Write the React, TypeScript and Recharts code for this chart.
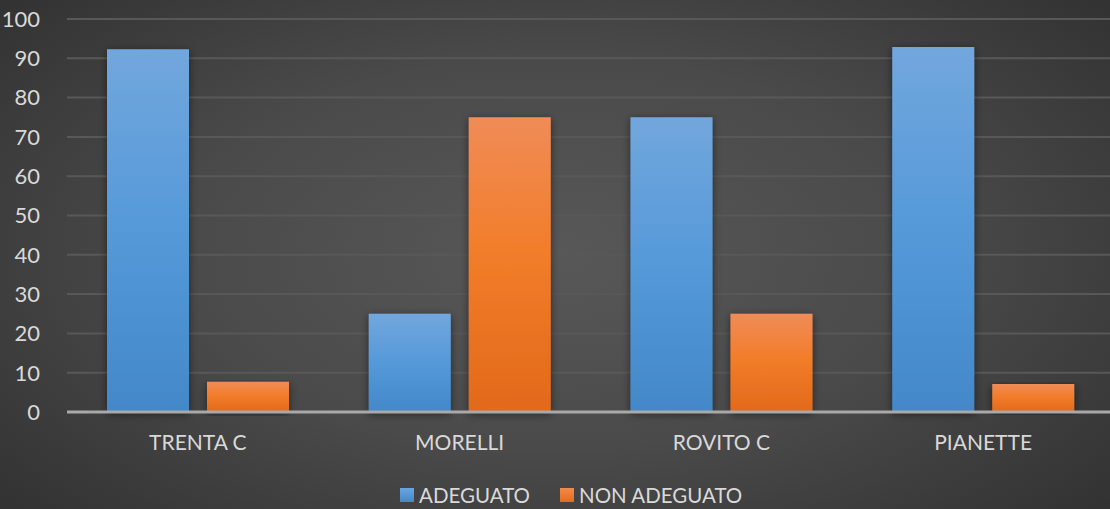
import React from "react";
import { BarChart, Bar, XAxis, YAxis, CartesianGrid } from "recharts";

const categories = ["TRENTA C", "MORELLI", "ROVITO C", "PIANETTE"];
const adeguato = [92.3, 25, 75, 92.9];
const nonAdeguato = [7.7, 75, 25, 7.1];
const yTicks = [0, 10, 20, 30, 40, 50, 60, 70, 80, 90, 100];
const seriesNames = ["ADEGUATO", "NON ADEGUATO"];

const data = categories.map((c, i) => ({
  name: c,
  adeguato: adeguato[i],
  nonAdeguato: nonAdeguato[i],
}));

const FONT = "Lato, 'Open Sans', sans-serif";

export default function App() {
  return (
    <div
      style={{
        position: "absolute",
        left: 0,
        top: 0,
        width: 1110,
        height: 509,
        overflow: "hidden",
        background:
          "radial-gradient(ellipse 75% 85% at 50% 50%, #585858 0%, #4a4a4a 45%, #2c2c2c 100%)",
      }}
    >
      <BarChart
        width={1114}
        height={509}
        data={data}
        margin={{ top: 19, right: 0, bottom: 67, left: 0 }}
        barSize={82}
        barGap={18}
      >
        <defs>
          <linearGradient id="gBlue" x1="0" y1="0" x2="0" y2="1">
            <stop offset="0%" stopColor="#72a7dd" />
            <stop offset="50%" stopColor="#5599d9" />
            <stop offset="100%" stopColor="#4388c9" />
          </linearGradient>
          <linearGradient id="gOrange" x1="0" y1="0" x2="0" y2="1">
            <stop offset="0%" stopColor="#f08c58" />
            <stop offset="45%" stopColor="#f27d2a" />
            <stop offset="100%" stopColor="#e2691a" />
          </linearGradient>
          <filter id="shadow" x="-20%" y="-5%" width="140%" height="115%">
            <feDropShadow dx="0" dy="2" stdDeviation="4" floodColor="#000" floodOpacity="0.5" />
          </filter>
        </defs>
        <CartesianGrid vertical={false} stroke="#585858" strokeWidth={2} />
        <XAxis
          dataKey="name"
          axisLine={{ stroke: "#a9a9a9", strokeWidth: 3 }}
          tickLine={false}
          tick={{ fill: "#d9d9d9", fontSize: 21, fontFamily: FONT }}
          tickMargin={17}
        />
        <YAxis
          domain={[0, 100]}
          ticks={yTicks}
          width={67}
          axisLine={false}
          tickLine={false}
          tick={{ fill: "#d9d9d9", fontSize: 22, fontFamily: FONT }}
          tickMargin={21}
        />
        <Bar dataKey="adeguato" name={seriesNames[0]} fill="url(#gBlue)" filter="url(#shadow)" isAnimationActive={false} />
        <Bar dataKey="nonAdeguato" name={seriesNames[1]} fill="url(#gOrange)" filter="url(#shadow)" isAnimationActive={false} />
      </BarChart>
      <div
        style={{
          display: "flex",
          alignItems: "center",
          fontFamily: FONT,
          fontSize: 20.5,
          color: "#d9d9d9",
          position: "absolute",
          left: 400,
          top: 482,
          lineHeight: "26px",
          whiteSpace: "nowrap",
        }}
      >
        <span style={{ width: 14, height: 14, background: "linear-gradient(#6aa6e0,#4289cb)", display: "inline-block", marginRight: 5 }} />
        <span style={{ marginRight: 30 }}>{seriesNames[0]}</span>
        <span style={{ width: 14, height: 14, background: "linear-gradient(#f28a4c,#e46c1a)", display: "inline-block", marginRight: 5 }} />
        <span>{seriesNames[1]}</span>
      </div>
    </div>
  );
}
